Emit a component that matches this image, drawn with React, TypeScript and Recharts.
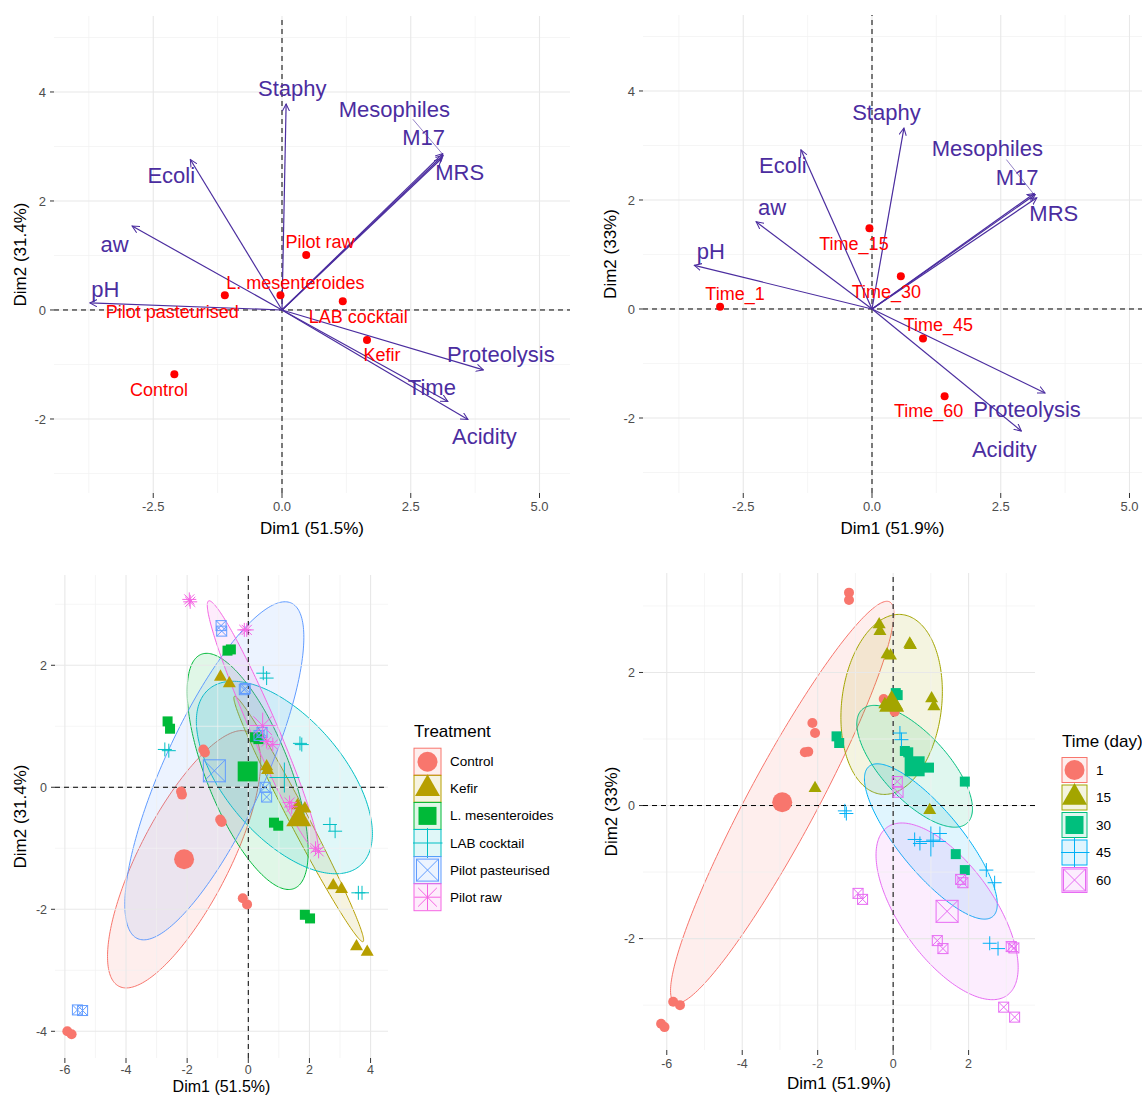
import React from "react";
import { ComposedChart, XAxis, YAxis, Scatter, Line, Area, ReferenceLine } from "recharts";

const FONT = "'Liberation Sans', Arial, Helvetica, sans-serif";
const PURPLE = "#4b2d9f";
const RED = "#ff0000";

// ---------- grid values ----------
const xTopMajor = [-2.5, 0, 2.5, 5];
const xTopMinor = [-3.75, -1.25, 1.25, 3.75];
const yTopMajor = [-2, 0, 2, 4];
const yTopMinor = [-3, -1, 1, 3, 5];
const xBLMajor = [-6, -4, -2, 0, 2, 4];
const xBRMajor = [-6, -4, -2, 0, 2];
const xBotMinor = [-5, -3, -1, 1, 3];
const yBLMajor = [-4, -2, 0, 2];
const yBRMajor = [-2, 0, 2];
const yBotMinor = [-3, -1, 1, 3];

// ---------- top-left: variables + treatments ----------
const varNamesTL = ["Staphy", "Mesophiles", "M17", "MRS", "Ecoli", "aw", "pH", "Proteolysis", "Time", "Acidity"];
const varTipXTL = [0.08, 3.12, 3.13, 3.1, -1.78, -2.91, -3.73, 3.91, 3.22, 3.61];
const varTipYTL = [3.78, 2.87, 2.84, 2.78, 2.76, 1.54, 0.13, -1.1, -1.68, -2.01];
const varLabXTL = [0.2, 2.18, 2.75, 3.45, -2.15, -3.25, -3.43, 4.25, 2.91, 3.93];
const varLabYTL = [4.07, 3.67, 3.16, 2.52, 2.46, 1.21, 0.38, -0.82, -1.42, -2.32];
const mesoLeaderTL = [{ x: 2.54, y: 3.5 }, { x: 3.1, y: 2.88 }];

const treatNames = ["Control", "Kefir", "L. mesenteroides", "LAB cocktail", "Pilot pasteurised", "Pilot raw"];
const treatX = [-2.09, 1.65, -0.03, 1.18, -1.11, 0.47];
const treatY = [-1.18, -0.55, 0.27, 0.16, 0.27, 1.01];
const treatLabX = [-2.39, 1.94, 0.26, 1.48, -2.13, 0.74];
const treatLabY = [-1.47, -0.82, 0.49, -0.12, -0.03, 1.25];

// ---------- top-right: variables + times ----------
const varNamesTR = ["Staphy", "Mesophiles", "M17", "MRS", "Ecoli", "aw", "pH", "Proteolysis", "Acidity"];
const varTipXTR = [0.62, 3.15, 3.17, 3.2, -1.38, -2.25, -3.45, 3.36, 2.9];
const varTipYTR = [3.32, 2.12, 2.1, 2.04, 2.92, 1.6, 0.8, -1.54, -2.24];
const varLabXTR = [0.28, 2.24, 2.82, 3.53, -1.73, -1.94, -3.13, 3.01, 2.57];
const varLabYTR = [3.6, 2.94, 2.42, 1.76, 2.64, 1.86, 1.06, -1.84, -2.57];
const mesoLeaderTR = [{ x: 2.61, y: 2.74 }, { x: 3.13, y: 2.12 }];

const timeNames = ["Time_1", "Time_15", "Time_30", "Time_45", "Time_60"];
const timeX = [-2.95, -0.05, 0.56, 0.99, 1.41];
const timeY = [0.04, 1.48, 0.6, -0.54, -1.6];
const timeLabX = [-2.66, -0.35, 0.28, 1.29, 1.1];
const timeLabY = [0.27, 1.2, 0.32, -0.3, -1.88];

// ---------- bottom-left: individuals by treatment ----------
const treatKinds = ["circle", "triangle", "square", "plus", "boxx", "star"];
const treatColors = ["#F8766D", "#B79F00", "#00BA38", "#00BFC4", "#619CFF", "#F564E3"];
const indTreatX = [
  [-1.47, -1.42, -2.2, -2.17, -0.92, -0.87, -0.18, -0.04, -5.92, -5.78],
  [-0.91, -0.62, 0.6, 0.63, 1.61, 1.85, 2.78, 3.05, 3.54, 3.89],
  [-0.68, -0.57, -2.64, -2.56, 0.22, 0.33, 0.84, 0.98, 1.85, 2.02],
  [0.49, 0.6, -2.73, -2.6, 1.69, 1.75, 2.67, 2.84, 3.6, 3.72],
  [-0.89, -0.87, -0.13, -0.1, 0.55, 0.6, -5.59, -5.42, 0.35, 0.45],
  [-1.93, -1.9, -0.13, -0.05, 0.6, 0.8, 1.35, 1.42, 2.2, 2.3],
];
const indTreatY = [
  [0.62, 0.57, -0.07, -0.12, -0.53, -0.57, -1.82, -1.92, -4.0, -4.05],
  [1.81, 1.7, 0.34, 0.28, -0.3, -0.35, -1.61, -1.67, -2.61, -2.7],
  [2.24, 2.26, 1.08, 0.96, 0.82, 0.79, -0.58, -0.63, -2.09, -2.15],
  [1.87, 1.79, 0.62, 0.6, 0.72, 0.7, -0.61, -0.72, -1.73, -1.73],
  [2.65, 2.56, 1.6, 1.62, 0.0, -0.16, -3.65, -3.66, 0.85, 0.9],
  [3.08, 3.04, 2.58, 2.58, 0.75, 0.7, -0.25, -0.32, -1.0, -1.05],
];
const treatMeanX = [-2.1, 1.65, -0.02, 1.18, -1.11, 0.47];
const treatMeanY = [-1.18, -0.52, 0.26, 0.16, 0.27, 1.01];
// ellipse semi-diameters (data units)
const treatEllA = [[2.14, 2.08], [2.105, -2.01], [1.527, -1.918], [2.497, -1.436], [2.524, 2.748], [1.767, -2.045]];
const treatEllB = [[1.302, -0.352], [0.27, 0.074], [1.26, 0.263], [1.433, 0.654], [1.483, -0.358], [0.399, 0.09]];

// ---------- bottom-right: individuals by time ----------
const dayNames = ["1", "15", "30", "45", "60"];
const dayKinds = ["circle", "triangle", "square", "plus", "boxx"];
const dayColors = ["#F8766D", "#A3A500", "#00BF7D", "#00B0F6", "#E76BF3"];
const indDayX = [
  [-1.17, -1.17, -2.14, -2.07, -2.34, -2.25, -0.25, 0.04, -5.83, -5.65, -6.15, -6.06],
  [-0.37, -0.35, 0.44, 0.46, -0.16, -0.07, 1.02, 1.08, -0.22, 0.09, -2.07, 0.97],
  [0.07, 0.12, -1.5, -1.43, 0.31, 0.4, 0.62, 0.5, 0.95, 1.9, 1.66, 1.9],
  [0.18, 0.22, -1.28, -1.24, 0.57, 0.71, 1.06, 1.24, 2.47, 2.69, 2.56, 2.78],
  [0.11, 0.13, -0.93, -0.81, 1.79, 1.85, 1.17, 1.32, 3.13, 3.2, 2.93, 3.22],
];
const indDayY = [
  [3.2, 3.09, 1.24, 1.09, 0.8, 0.81, 1.6, 1.41, -2.95, -3.0, -3.28, -3.33],
  [2.72, 2.62, 2.43, 2.41, 2.27, 2.25, 1.61, 1.49, 1.52, 1.5, 0.26, -0.07],
  [1.69, 1.66, 1.04, 0.94, 0.82, 0.8, 0.64, 0.55, 0.57, 0.36, -0.73, -0.97],
  [1.09, 0.99, -0.08, -0.12, -0.51, -0.57, -0.52, -0.42, -0.97, -1.16, -2.07, -2.15],
  [0.36, 0.2, -1.32, -1.41, -1.11, -1.16, -2.03, -2.15, -2.12, -2.14, -3.03, -3.18],
];
const dayMeanX = [-2.94, -0.04, 0.57, 1.0, 1.43];
const dayMeanY = [0.05, 1.52, 0.59, -0.54, -1.59];
const dayEllA = [[2.85, 3.01], [0.28, 1.35], [1.395, -0.852], [1.64, -1.128], [1.59, -1.263]];
const dayEllB = [[0.8, -0.245], [1.315, -0.089], [0.635, 0.335], [0.64, 0.3], [1.01, 0.41]];

// ---------- helpers ----------
type Pt = { x: number; y: number; name?: string };
const zip = (xs: number[], ys: number[], names?: string[]): Pt[] =>
  xs.map((x, i) => ({ x, y: ys[i], name: names ? names[i] : undefined }));

// outline of ellipse c + a cos t + b sin t as a lower/upper band over x
function ellipseBand(cx: number, cy: number, a: number[], b: number[], n = 120) {
  const R = Math.hypot(a[0], b[0]);
  const phi = Math.atan2(b[0], a[0]);
  const out: { x: number; range: [number, number] }[] = [];
  for (let i = 0; i <= n; i++) {
    const s = Math.PI * (1 - i / n);
    const t1 = phi + s;
    const t2 = phi - s;
    const y1 = cy + a[1] * Math.cos(t1) + b[1] * Math.sin(t1);
    const y2 = cy + a[1] * Math.cos(t2) + b[1] * Math.sin(t2);
    out.push({ x: cx + R * Math.cos(s), range: [Math.min(y1, y2), Math.max(y1, y2)] });
  }
  return out;
}

function Mark({ kind, cx, cy, s, color }: { kind: string; cx: number; cy: number; s: number; color: string }) {
  const h = s / 2;
  if (kind === "circle") return <circle cx={cx} cy={cy} r={h} fill={color} />;
  if (kind === "triangle")
    return (
      <polygon
        points={`${cx},${cy - s * 0.58} ${cx - h},${cy + s * 0.29} ${cx + h},${cy + s * 0.29}`}
        fill={color}
      />
    );
  if (kind === "square") return <rect x={cx - h} y={cy - h} width={s} height={s} fill={color} />;
  if (kind === "plus")
    return (
      <g stroke={color} strokeWidth={1}>
        <line x1={cx - h} y1={cy} x2={cx + h} y2={cy} />
        <line x1={cx} y1={cy - h} x2={cx} y2={cy + h} />
      </g>
    );
  if (kind === "boxx")
    return (
      <g stroke={color} strokeWidth={1} fill="none">
        <rect x={cx - h} y={cy - h} width={s} height={s} />
        <line x1={cx - h} y1={cy - h} x2={cx + h} y2={cy + h} />
        <line x1={cx - h} y1={cy + h} x2={cx + h} y2={cy - h} />
      </g>
    );
  const d = h * 0.72;
  return (
    <g stroke={color} strokeWidth={1}>
      <line x1={cx - h} y1={cy} x2={cx + h} y2={cy} />
      <line x1={cx} y1={cy - h} x2={cx} y2={cy + h} />
      <line x1={cx - d} y1={cy - d} x2={cx + d} y2={cy + d} />
      <line x1={cx - d} y1={cy + d} x2={cx + d} y2={cy - d} />
    </g>
  );
}

const smallSize: Record<string, number> = { circle: 10, triangle: 13, square: 10, plus: 14, boxx: 10, star: 14 };
const bigSize: Record<string, number> = { circle: 20, triangle: 25, square: 20, plus: 30, boxx: 22, star: 26 };

const markShape = (kind: string, s: number, color: string) => (p: any) =>
  <Mark kind={kind} cx={p.cx} cy={p.cy} s={s} color={color} />;

const textShape = (color: string, size: number) => (p: any) => (
  <text x={p.cx} y={p.cy} textAnchor="middle" dominantBaseline="central" fill={color} fontSize={size} fontFamily={FONT}>
    {p.payload.name}
  </text>
);

type AxisCfg = {
  xDomain: [number, number];
  yDomain: [number, number];
  xTicks: number[];
  yTicks: number[];
  xFmt: (v: number) => string;
  xHeight: number;
  yWidth: number;
  tickFont: number;
  xTickMargin: number;
  xTitle: string;
  yTitle: string;
  xTitleSize: number;
  xTitleOffset: number;
  yTitleOffset: number;
};

function axes(c: AxisCfg) {
  const tick = { fill: "#4d4d4d", fontSize: c.tickFont, fontFamily: FONT };
  return [
    <XAxis
      key="xa"
      type="number"
      dataKey="x"
      domain={c.xDomain}
      allowDataOverflow
      ticks={c.xTicks}
      interval={0}
      tickFormatter={c.xFmt}
      height={c.xHeight}
      axisLine={false}
      tickLine={{ stroke: "#333" }}
      tickSize={5}
      tickMargin={c.xTickMargin}
      tick={tick}
      label={{ value: c.xTitle, position: "insideBottom", offset: c.xTitleOffset, fill: "#000", fontSize: c.xTitleSize, fontFamily: FONT }}
    />,
    <YAxis
      key="ya"
      type="number"
      dataKey="y"
      domain={c.yDomain}
      allowDataOverflow
      ticks={c.yTicks}
      interval={0}
      width={c.yWidth}
      axisLine={false}
      tickLine={{ stroke: "#333" }}
      tickSize={4}
      tickMargin={4}
      tick={tick}
      label={{
        value: c.yTitle,
        angle: -90,
        position: "insideLeft",
        offset: c.yTitleOffset,
        fill: "#000",
        fontSize: 17,
        fontFamily: FONT,
        style: { textAnchor: "middle" },
      }}
    />,
  ];
}

function grid(xMajor: number[], xMinor: number[], yMajor: number[], yMinor: number[]) {
  const minor = { stroke: "#f1f1f1", strokeWidth: 0.7 };
  const major = { stroke: "#e8e8e8", strokeWidth: 1.1 };
  return [
    ...xMinor.map((v) => <ReferenceLine key={"xm" + v} x={v} {...minor} />),
    ...yMinor.map((v) => <ReferenceLine key={"ym" + v} y={v} {...minor} />),
    ...xMajor.map((v) => <ReferenceLine key={"xM" + v} x={v} {...major} />),
    ...yMajor.map((v) => <ReferenceLine key={"yM" + v} y={v} {...major} />),
  ];
}

const zeroLines = () => [
  <ReferenceLine key="z0x" x={0} stroke="#000" strokeWidth={1} strokeDasharray="5 4" />,
  <ReferenceLine key="z0y" y={0} stroke="#000" strokeWidth={1} strokeDasharray="5 4" />,
];

function arrows(tx: number[], ty: number[], prefix: string) {
  return tx.map((x, i) => (
    <Line
      key={prefix + i}
      data={[{ x: 0, y: 0 }, { x, y: ty[i] }]}
      dataKey="y"
      type="linear"
      stroke={PURPLE}
      strokeWidth={1.2}
      dot={false}
      activeDot={false}
      markerEnd="url(#pcaArrow)"
      isAnimationActive={false}
    />
  ));
}

function Biplot(props: {
  cfg: AxisCfg;
  tipX: number[];
  tipY: number[];
  labX: number[];
  labY: number[];
  names: string[];
  leader: Pt[];
  indX: number[];
  indY: number[];
  indLabX: number[];
  indLabY: number[];
  indNames: string[];
  width: number;
  height: number;
  margin: any;
}) {
  const p = props;
  return (
    <ComposedChart width={p.width} height={p.height} margin={p.margin}>
      {axes(p.cfg)}
      {grid(xTopMajor, xTopMinor, yTopMajor, yTopMinor)}
      {zeroLines()}
      {arrows(p.tipX, p.tipY, "arr")}
      <Line data={p.leader} dataKey="y" type="linear" stroke={PURPLE} strokeWidth={0.6} dot={false} activeDot={false} isAnimationActive={false} />
      <Scatter data={zip(p.indX, p.indY)} shape={markShape("circle", 8, RED)} isAnimationActive={false} />
      <Scatter data={zip(p.indLabX, p.indLabY, p.indNames)} shape={textShape(RED, 18)} isAnimationActive={false} />
      <Scatter data={zip(p.labX, p.labY, p.names)} shape={textShape(PURPLE, 22)} isAnimationActive={false} />
    </ComposedChart>
  );
}

function IndPlot(props: {
  cfg: AxisCfg;
  xMajor: number[];
  yMajor: number[];
  kinds: string[];
  colors: string[];
  xs: number[][];
  ys: number[][];
  meanX: number[];
  meanY: number[];
  ellA: number[][];
  ellB: number[][];
  width: number;
  height: number;
  margin: any;
}) {
  const p = props;
  return (
    <ComposedChart width={p.width} height={p.height} margin={p.margin}>
      {axes(p.cfg)}
      {grid(p.xMajor, xBotMinor, p.yMajor, yBotMinor)}
      {p.colors.map((c, g) => (
        <Area
          key={"ell" + g}
          data={ellipseBand(p.meanX[g], p.meanY[g], p.ellA[g], p.ellB[g])}
          dataKey="range"
          type="linear"
          stroke={c}
          strokeWidth={1}
          fill={c}
          fillOpacity={0.12}
          dot={false}
          activeDot={false}
          isAnimationActive={false}
        />
      ))}
      {zeroLines()}
      {p.colors.map((c, g) => (
        <Scatter
          key={"pts" + g}
          data={zip(p.xs[g], p.ys[g])}
          shape={markShape(p.kinds[g], smallSize[p.kinds[g]], c)}
          isAnimationActive={false}
        />
      ))}
      {p.colors.map((c, g) => (
        <Scatter
          key={"mean" + g}
          data={[{ x: p.meanX[g], y: p.meanY[g] }]}
          shape={markShape(p.kinds[g], bigSize[p.kinds[g]], c)}
          isAnimationActive={false}
        />
      ))}
    </ComposedChart>
  );
}

function LegendBox(props: {
  left: number;
  top: number;
  width: number;
  title: string;
  names: string[];
  kinds: string[];
  colors: string[];
  titleY: number;
  firstRow: number;
  step: number;
  box: number;
}) {
  const p = props;
  return (
    <svg width={p.width} height={200} style={{ position: "absolute", left: p.left, top: p.top }}>
      <text x={1} y={p.titleY} fontSize={17} fontFamily={FONT} fill="#000">
        {p.title}
      </text>
      {p.names.map((n, i) => {
        const cy = p.firstRow + i * p.step;
        const cx = 1 + p.box / 2;
        return (
          <g key={n}>
            <rect x={1} y={cy - p.box / 2} width={p.box} height={p.box} fill={p.colors[i]} fillOpacity={0.12} stroke={p.colors[i]} strokeWidth={1} />
            <Mark kind={p.kinds[i]} cx={cx} cy={cy} s={p.kinds[i] === "circle" ? 20 : p.kinds[i] === "square" ? 18 : bigSize[p.kinds[i]]} color={p.colors[i]} />
            <text x={p.box + 10} y={cy} dominantBaseline="central" fontSize={13.5} fontFamily={FONT} fill="#000">
              {n}
            </text>
          </g>
        );
      })}
    </svg>
  );
}

const fmt1 = (v: number) => v.toFixed(1);
const fmt0 = (v: number) => String(v);

export default function App() {
  return (
    <div style={{ position: "absolute", left: 0, top: 0, width: 1142, height: 1095, overflow: "hidden", background: "#fff" }}>
      <svg width={0} height={0} style={{ position: "absolute" }}>
        <defs>
          <marker id="pcaArrow" viewBox="0 0 10 10" refX={9} refY={5} markerWidth={8} markerHeight={8} markerUnits="userSpaceOnUse" orient="auto">
            <path d="M0,0.5 L9,5 L0,9.5" fill="none" stroke={PURPLE} strokeWidth={1.3} />
          </marker>
        </defs>
      </svg>

      <div style={{ position: "absolute", left: 0, top: 0 }}>
        <Biplot
          width={575}
          height={545}
          margin={{ top: 16, right: 5, bottom: 0, left: 0 }}
          cfg={{
            xDomain: [-4.427, 5.592],
            yDomain: [-3.358, 5.394],
            xTicks: xTopMajor,
            yTicks: yTopMajor,
            xFmt: fmt1,
            xHeight: 52,
            yWidth: 54,
            tickFont: 13,
            xTickMargin: 4,
            xTitle: "Dim1 (51.5%)",
            yTitle: "Dim2 (31.4%)",
            xTitleSize: 17,
            xTitleOffset: 11,
            yTitleOffset: 20,
          }}
          tipX={varTipXTL}
          tipY={varTipYTL}
          labX={varLabXTL}
          labY={varLabYTL}
          names={varNamesTL}
          leader={mesoLeaderTL}
          indX={treatX}
          indY={treatY}
          indLabX={treatLabX}
          indLabY={treatLabY}
          indNames={treatNames}
        />
      </div>

      <div style={{ position: "absolute", left: 583, top: 0 }}>
        <Biplot
          width={559}
          height={545}
          margin={{ top: 15, right: 0, bottom: 0, left: 0 }}
          cfg={{
            xDomain: [-4.447, 5.243],
            yDomain: [-3.376, 5.394],
            xTicks: xTopMajor,
            yTicks: yTopMajor,
            xFmt: fmt1,
            xHeight: 52,
            yWidth: 60,
            tickFont: 13,
            xTickMargin: 4,
            xTitle: "Dim1 (51.9%)",
            yTitle: "Dim2 (33%)",
            xTitleSize: 17,
            xTitleOffset: 11,
            yTitleOffset: 27,
          }}
          tipX={varTipXTR}
          tipY={varTipYTR}
          labX={varLabXTR}
          labY={varLabYTR}
          names={varNamesTR}
          leader={mesoLeaderTR}
          indX={timeX}
          indY={timeY}
          indLabX={timeLabX}
          indLabY={timeLabY}
          indNames={timeNames}
        />
      </div>

      <div style={{ position: "absolute", left: 0, top: 560 }}>
        <IndPlot
          width={395}
          height={535}
          margin={{ top: 15, right: 7, bottom: 0, left: 0 }}
          cfg={{
            xDomain: [-6.323, 4.57],
            yDomain: [-4.438, 3.48],
            xTicks: xBLMajor,
            yTicks: yBLMajor,
            xFmt: fmt0,
            xHeight: 37,
            yWidth: 55,
            tickFont: 12.5,
            xTickMargin: 2,
            xTitle: "Dim1 (51.5%)",
            yTitle: "Dim2 (31.4%)",
            xTitleSize: 16,
            xTitleOffset: 3,
            yTitleOffset: 20,
          }}
          xMajor={xBLMajor}
          yMajor={yBLMajor}
          kinds={treatKinds}
          colors={treatColors}
          xs={indTreatX}
          ys={indTreatY}
          meanX={treatMeanX}
          meanY={treatMeanY}
          ellA={treatEllA}
          ellB={treatEllB}
        />
      </div>
      <LegendBox
        left={413}
        top={715}
        width={160}
        title="Treatment"
        names={treatNames}
        kinds={treatKinds}
        colors={treatColors}
        titleY={22}
        firstRow={46.7}
        step={27.1}
        box={27}
      />

      <div style={{ position: "absolute", left: 583, top: 560 }}>
        <IndPlot
          width={460}
          height={535}
          margin={{ top: 13, right: 8, bottom: 0, left: 0 }}
          cfg={{
            xDomain: [-6.63, 3.76],
            yDomain: [-3.674, 3.495],
            xTicks: xBRMajor,
            yTicks: yBRMajor,
            xFmt: fmt0,
            xHeight: 45,
            yWidth: 60,
            tickFont: 12.5,
            xTickMargin: 4,
            xTitle: "Dim1 (51.9%)",
            yTitle: "Dim2 (33%)",
            xTitleSize: 17,
            xTitleOffset: 6,
            yTitleOffset: 28,
          }}
          xMajor={xBRMajor}
          yMajor={yBRMajor}
          kinds={dayKinds}
          colors={dayColors}
          xs={indDayX}
          ys={indDayY}
          meanX={dayMeanX}
          meanY={dayMeanY}
          ellA={dayEllA}
          ellB={dayEllB}
        />
      </div>
      <LegendBox
        left={1061}
        top={720}
        width={90}
        title="Time (day)"
        names={dayNames}
        kinds={dayKinds}
        colors={dayColors}
        titleY={27}
        firstRow={50}
        step={27.5}
        box={25}
      />
    </div>
  );
}
